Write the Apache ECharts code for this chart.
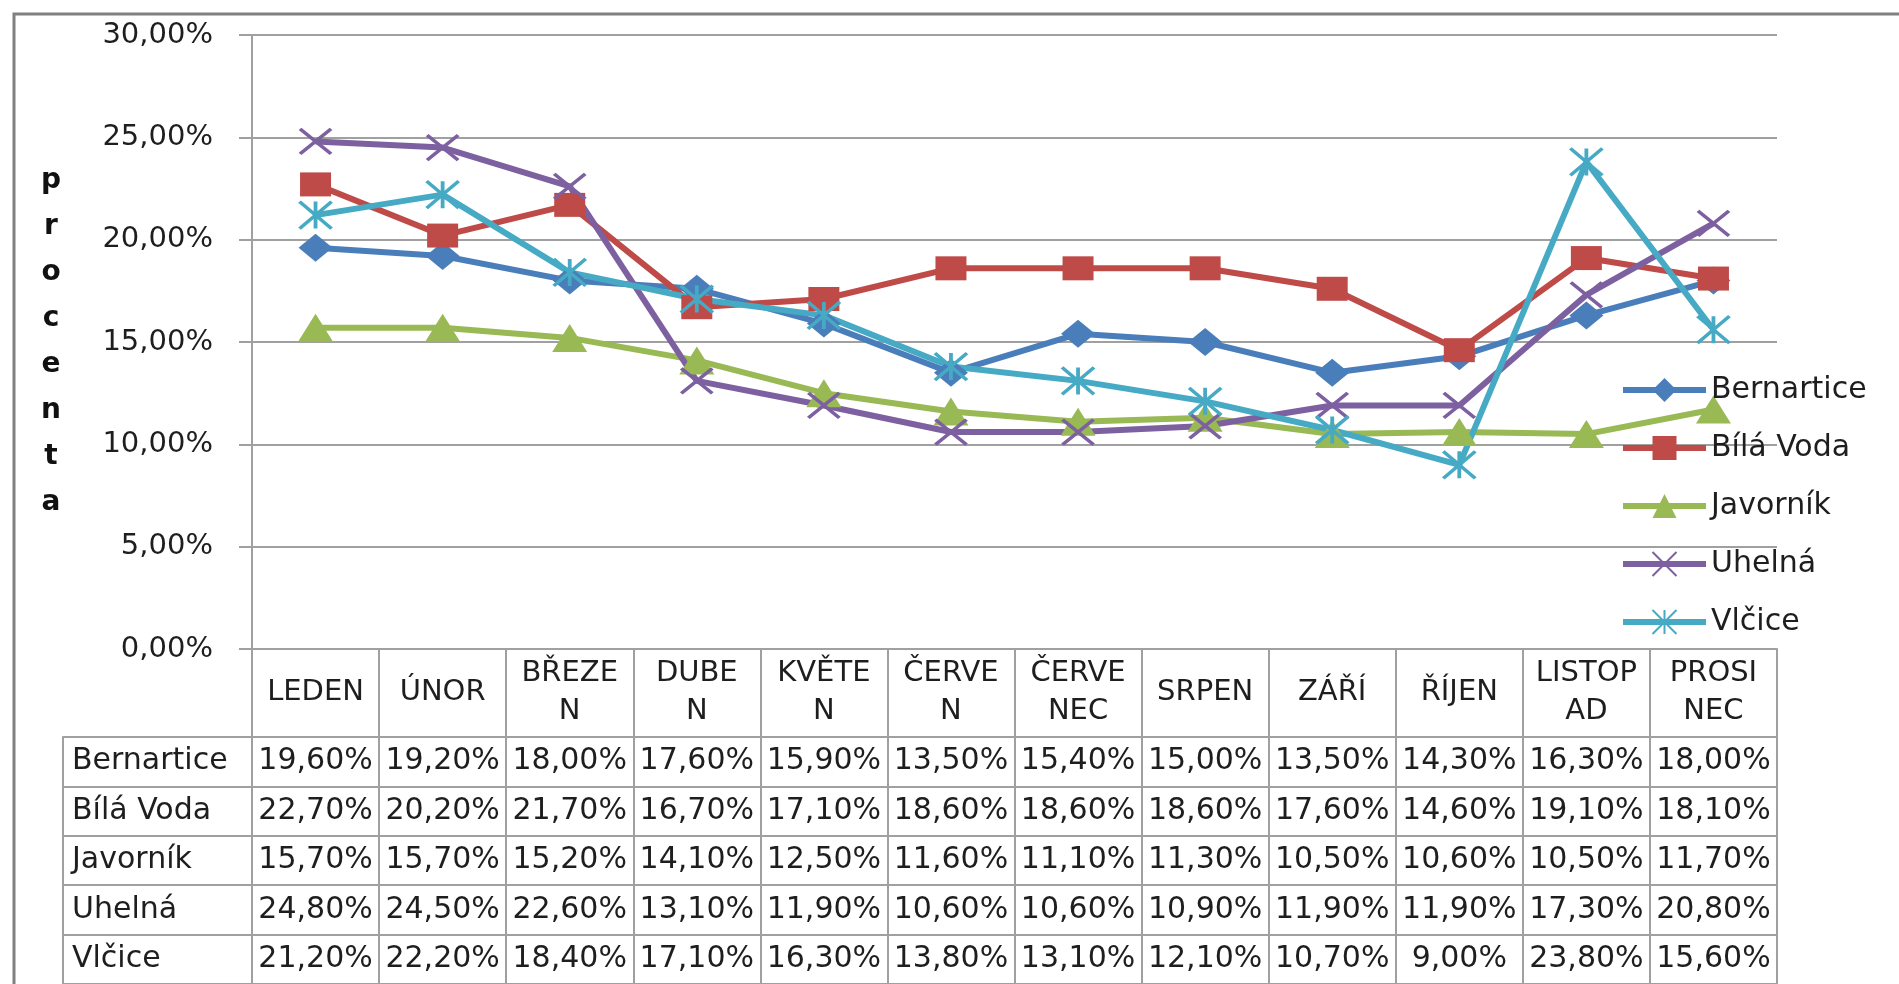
<!DOCTYPE html>
<html>
<head>
<meta charset="utf-8">
<title>procenta</title>
<script src="https://cdn.jsdelivr.net/npm/echarts@6/dist/echarts.min.js"></script>
<style>
    html, body {
        margin: 0;
        padding: 0;
        background: #fff;
    }

    #chart {
        width: 1899px;
        height: 984px;
    }
</style>
</head>
<body>
<div id="chart"></div>
<script>
    // months (table header, wrapped like in the original)
    var months = ['LEDEN', 'ÚNOR', 'BŘEZEN', 'DUBEN', 'KVĚTEN', 'ČERVEN', 'ČERVENEC', 'SRPEN', 'ZÁŘÍ', 'ŘÍJEN', 'LISTOPAD', 'PROSINEC'];
    var monthLabels = ['LEDEN', 'ÚNOR', 'BŘEZE\nN', 'DUBE\nN', 'KVĚTE\nN', 'ČERVE\nN', 'ČERVE\nNEC', 'SRPEN', 'ZÁŘÍ', 'ŘÍJEN', 'LISTOP\nAD', 'PROSI\nNEC'];

    var names = ['Bernartice', 'Bílá Voda', 'Javorník', 'Uhelná', 'Vlčice'];

    // values in %
    var bernartice = [19.6, 19.2, 18.0, 17.6, 15.9, 13.5, 15.4, 15.0, 13.5, 14.3, 16.3, 18.0];
    var bilaVoda = [22.7, 20.2, 21.7, 16.7, 17.1, 18.6, 18.6, 18.6, 17.6, 14.6, 19.1, 18.1];
    var javornik = [15.7, 15.7, 15.2, 14.1, 12.5, 11.6, 11.1, 11.3, 10.5, 10.6, 10.5, 11.7];
    var uhelna = [24.8, 24.5, 22.6, 13.1, 11.9, 10.6, 10.6, 10.9, 11.9, 11.9, 17.3, 20.8];
    var vlcice = [21.2, 22.2, 18.4, 17.1, 16.3, 13.8, 13.1, 12.1, 10.7, 9.0, 23.8, 15.6];

    var yTicks = [0, 5, 10, 15, 20, 25, 30];

    var colors = ['#4A7EBB', '#BE4B48', '#98B954', '#7D60A0', '#46AAC5'];
    var font = 'DejaVu Sans';
    var textColor = '#1e1e1e';
    var gridColor = '#A0A0A0';

    function pct(v) {
        return v.toFixed(2).replace('.', ',') + '%';
    }

    var allValues = [bernartice, bilaVoda, javornik, uhelna, vlcice];

    var symbols = [
        { symbol: 'diamond', size: [34, 28] },
        { symbol: 'rect', size: [31, 24] },
        { symbol: 'triangle', size: [35, 28] },
        { symbol: 'path://M0,0L10,10M10,0L0,10', size: [31, 25] },
        { symbol: 'path://M0,0L10,10M10,0L0,10M5,0L5,10', size: [32, 27] }
    ];

    var lineSeries = names.map(function (name, i) {
        return {
            name: name,
            type: 'line',
            xAxisIndex: 0,
            yAxisIndex: 0,
            data: allValues[i],
            symbol: symbols[i].symbol,
            symbolSize: symbols[i].size,
            lineStyle: { width: 6, color: colors[i] },
            itemStyle: {
                color: colors[i],
                borderColor: colors[i],
                borderWidth: i >= 3 ? 3.5 : 0
            },
            emphasis: { disabled: true }
        };
    });

    // data table cells
    var cells = [];
    allValues.forEach(function (arr, r) {
        arr.forEach(function (v, c) {
            cells.push([c, r, v]);
        });
    });

    var tableSeries = {
        name: 'tabulka',
        type: 'scatter',
        xAxisIndex: 1,
        yAxisIndex: 1,
        data: cells,
        symbolSize: 1,
        itemStyle: { color: 'rgba(0,0,0,0)', opacity: 1 },
        label: {
            show: true,
            position: 'inside',
            fontFamily: font,
            fontSize: 30,
            color: textColor,
            opacity: 1,
            formatter: function (p) { return pct(p.value[2]); }
        },
        emphasis: { disabled: true },
        silent: true
    };

    var chart = echarts.init(document.getElementById('chart'));

    chart.setOption({
        animation: false,
        backgroundColor: '#fff',
        graphic: [{
            type: 'rect',
            shape: { x: 14, y: 14, width: 1920, height: 1000 },
            style: { fill: 'none', stroke: '#808080', lineWidth: 3 },
            silent: true
        }],
        legend: {
            data: names,
            orient: 'vertical',
            left: 1615,
            top: 370,
            itemWidth: 83,
            itemHeight: 30,
            itemGap: 28,
            lineStyle: { width: 6 },
            textStyle: { fontFamily: font, fontSize: 30, color: textColor }
        },
        grid: [
            { left: 252, top: 35, width: 1525, height: 614 },
            { left: 252, top: 737, width: 1525, height: 252 }
        ],
        xAxis: [
            {
                type: 'category',
                gridIndex: 0,
                data: monthLabels,
                boundaryGap: true,
                axisLine: { lineStyle: { color: gridColor, width: 2 } },
                axisTick: { show: true, length: 88, lineStyle: { color: gridColor, width: 2 } },
                axisLabel: {
                    interval: 0,
                    margin: 43,
                    verticalAlign: 'middle',
                    fontFamily: font,
                    fontSize: 29,
                    lineHeight: 38,
                    color: textColor
                },
                splitLine: { show: false }
            },
            {
                type: 'category',
                gridIndex: 1,
                data: months,
                boundaryGap: true,
                axisLine: { show: false },
                axisTick: { show: false },
                axisLabel: { show: false },
                splitLine: { show: true, lineStyle: { color: gridColor, width: 2 } }
            }
        ],
        yAxis: [
            {
                type: 'value',
                gridIndex: 0,
                min: yTicks[0],
                max: yTicks[yTicks.length - 1],
                interval: 5,
                name: 'procenta'.split('').join('\n'),
                nameLocation: 'middle',
                nameRotate: 0,
                nameGap: 201,
                nameTextStyle: {
                    fontFamily: font,
                    fontWeight: 'bold',
                    fontSize: 28,
                    lineHeight: 46,
                    color: '#111',
                    align: 'center',
                    verticalAlign: 'middle',
                    padding: [29, 0, 0, 0]
                },
                axisLine: { show: true, lineStyle: { color: gridColor, width: 2 } },
                axisTick: { show: true, length: 13, lineStyle: { color: gridColor, width: 2 } },
                axisLabel: {
                    margin: 39,
                    fontFamily: font,
                    fontSize: 29,
                    color: textColor,
                    formatter: function (v) { return pct(v); }
                },
                splitLine: { show: true, lineStyle: { color: gridColor, width: 2 } }
            },
            {
                type: 'category',
                gridIndex: 1,
                data: names,
                inverse: true,
                boundaryGap: true,
                axisLine: { show: true, lineStyle: { color: gridColor, width: 2 } },
                axisTick: { show: true, length: 189, lineStyle: { color: gridColor, width: 2 } },
                axisLabel: {
                    align: 'left',
                    margin: 180,
                    fontFamily: font,
                    fontSize: 30,
                    color: textColor
                },
                splitLine: { show: true, lineStyle: { color: gridColor, width: 2 } }
            },
            {
                // left border of the name column
                type: 'category',
                gridIndex: 1,
                data: names,
                inverse: true,
                position: 'left',
                offset: 189,
                axisLine: { show: true, lineStyle: { color: gridColor, width: 2 } },
                axisTick: { show: false },
                axisLabel: { show: false },
                splitLine: { show: false }
            }
        ],
        series: lineSeries.concat([tableSeries])
    });
</script>
</body>
</html>
